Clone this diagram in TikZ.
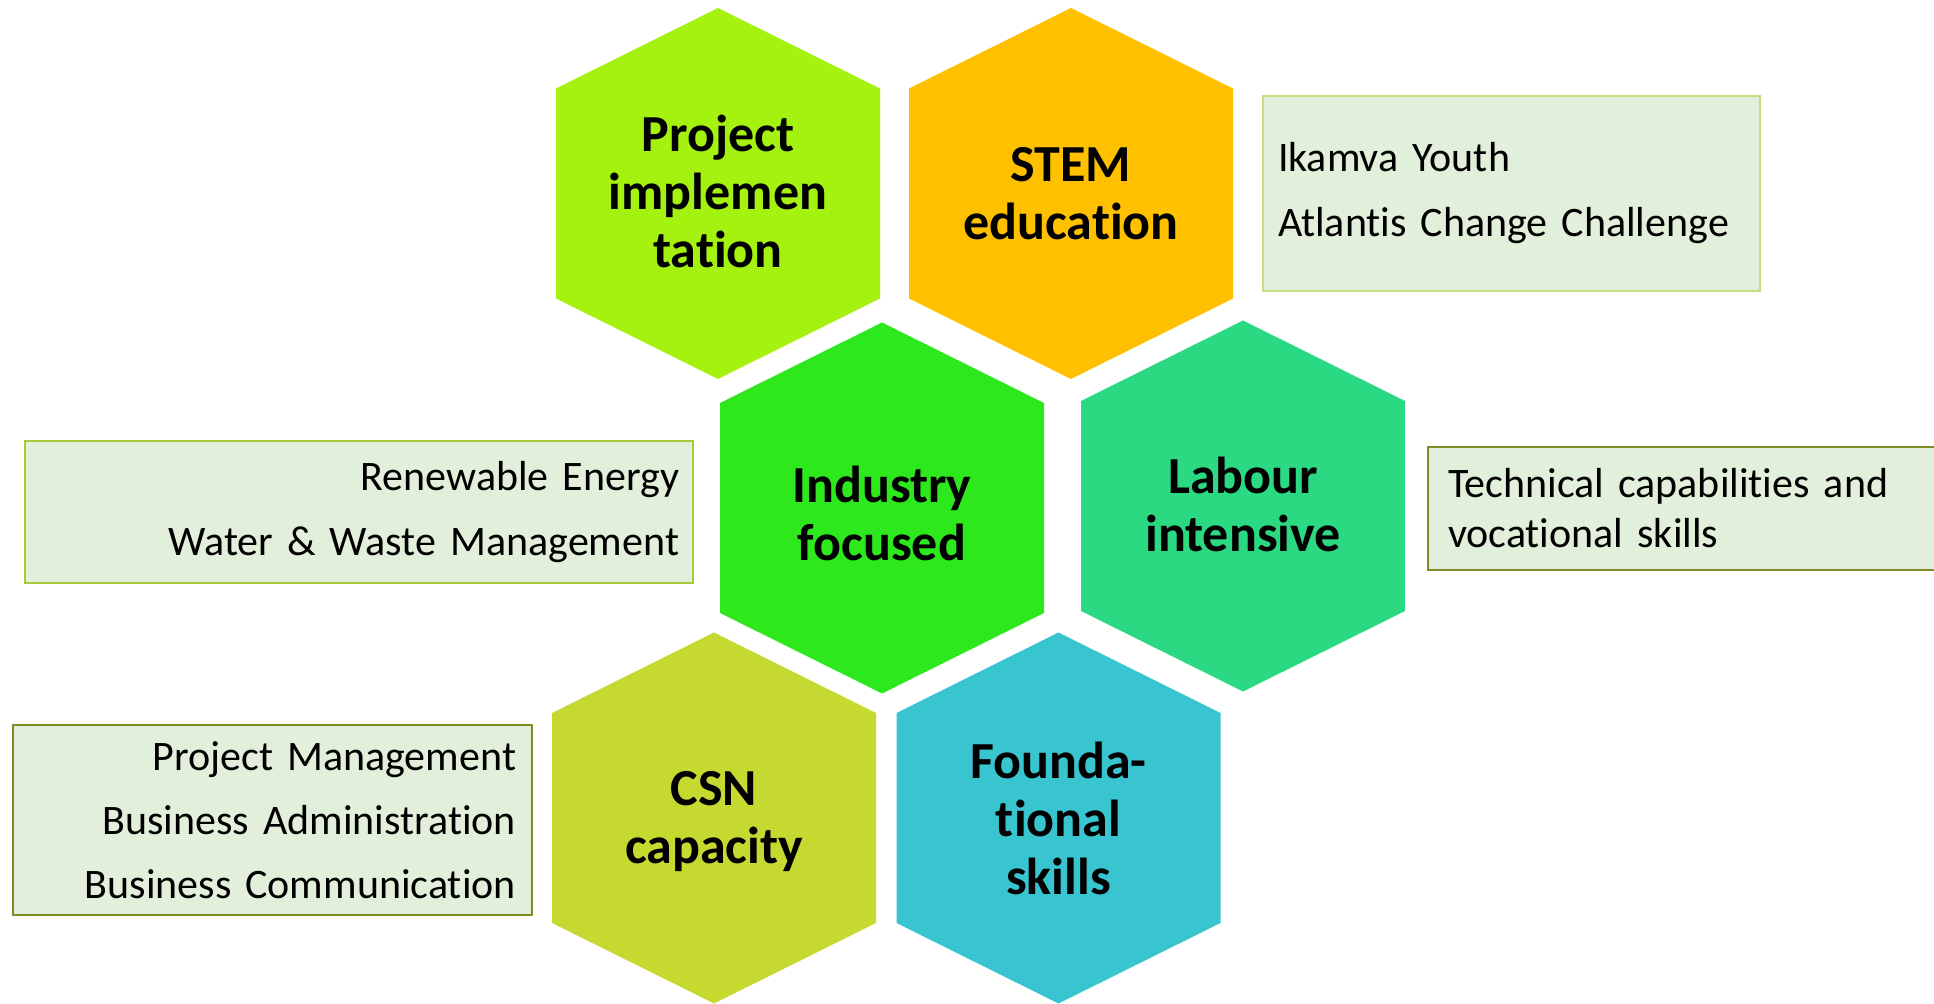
\documentclass[tikz,border=0pt]{standalone}
\usepackage{fontspec}
\setmainfont{Carlito}[Ligatures=NoCommon, WordSpace=0.8]
\usepackage{tikz}
\usetikzlibrary{positioning}

\definecolor{limegreen}{HTML}{A5F10F}
\definecolor{amber}{HTML}{FFC000}
\definecolor{brightgreen}{HTML}{2EE81E}
\definecolor{seagreen}{HTML}{2AD981}
\definecolor{olivelime}{HTML}{C5D930}
\definecolor{turquoise}{HTML}{38C5CF}
\definecolor{boxfill}{HTML}{E2EFDA}
\definecolor{lightedge}{HTML}{C3DE7E}
\definecolor{midedge}{HTML}{A9C93A}
\definecolor{darkedge}{HTML}{7F8C25}

% hexagon: centre x, centre y, colour
\newcommand{\hexcell}[3]{\fill[#3] (#1,#2) ++(0,-185.5) -- ++(162,80.5) -- ++(0,210) -- ++(-162,80.5) -- ++(-162,-80.5) -- ++(0,-210) -- cycle;}

\begin{document}
\begin{tikzpicture}[x=0.5pt, y=-0.5pt,
    hexlabel/.style={font=\fontsize{26}{29}\selectfont\bfseries, align=center, inner sep=0pt},
    infobox/.style={fill=boxfill, line width=1.2pt, inner ysep=0pt, font=\fontsize{21}{32.5}\selectfont}]
    \clip (0,0) rectangle (1934,1004);

    \hexcell{718}{193.5}{limegreen}
    \hexcell{1071}{193.5}{amber}
    \hexcell{882}{508}{brightgreen}
    \hexcell{1243}{506}{seagreen}
    \hexcell{714}{818}{olivelime}
    \hexcell{1058.5}{818}{turquoise}

    \node[hexlabel] (project) at (718,191) {Project\\implemen\\tation};
    \node[hexlabel] (stem) at (1071,193.5) {STEM\\education};
    \node[hexlabel] (industry) at (882,513) {Industry\\focused};
    \node[hexlabel] (labour) at (1243,504) {Labour\\intensive};
    \node[hexlabel] (csn) at (714,822) {CSN\\capacity};
    \node[hexlabel] (found) at (1058.5,818) {Founda-\\tional\\skills};

    \node[infobox, draw=lightedge, text width=233.5pt, inner xsep=7.5pt, minimum height=97.5pt, align=left]
    (youth) at (1511.5,193.5) {Ikamva Youth\\Atlantis Change Challenge};
    \node[infobox, draw=midedge, text width=320pt, inner xsep=7pt, minimum height=71pt, align=right]
    (energy) at (359,512) {Renewable Energy\\Water \& Waste Management};
    \node[infobox, draw=darkedge, text width=250pt, inner xsep=10pt, minimum height=61.5pt, align=left,
    font=\fontsize{21}{25}\selectfont]
    (technical) at (1698,508.5) {Technical capabilities and\\vocational skills};
    \node[infobox, draw=darkedge, text width=243.5pt, inner xsep=8pt, minimum height=95pt, align=right,
    font=\fontsize{21}{32}\selectfont]
    (business) at (272.5,820) {Project Management\\Business Administration\\Business Communication};
\end{tikzpicture}
\end{document}
